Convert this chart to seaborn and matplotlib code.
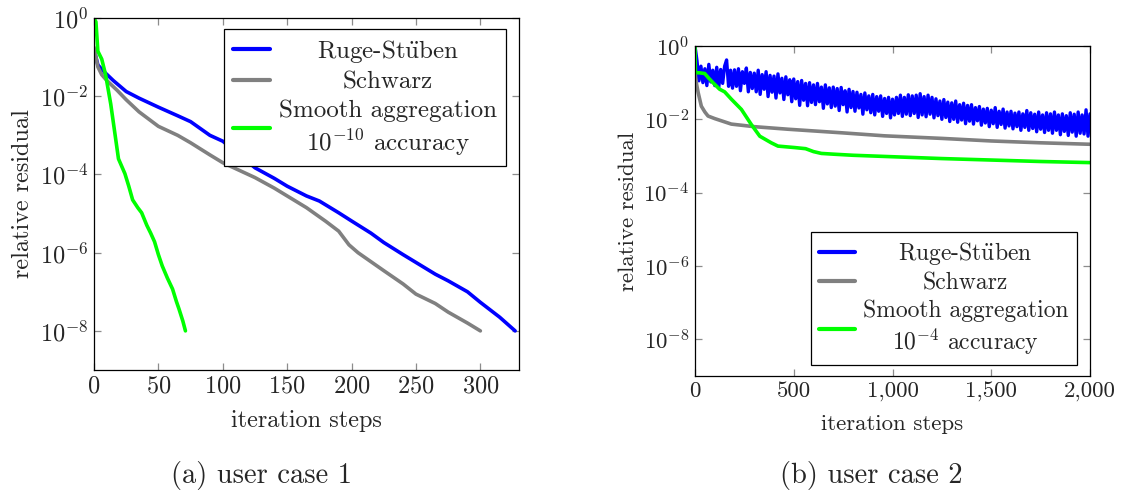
import numpy as np
import matplotlib
matplotlib.use("Agg")
import matplotlib.pyplot as plt
from matplotlib.ticker import FixedLocator, NullLocator, FuncFormatter
import seaborn as sns

# -------------------------------
# Data (iteration step, log10 of relative residual)
# -------------------------------
# (a) user case 1
rs_a_it = [0, 3, 8, 15, 25, 35, 50, 65, 75, 90, 100, 115, 125, 140, 150, 165, 175, 190, 200, 215,
           225, 240, 250, 265, 275, 290, 300, 315, 327]
rs_a_log = [-0.80, -1.20, -1.38, -1.60, -1.88, -2.05, -2.28, -2.50, -2.65, -3.00, -3.15, -3.55, -3.83, -4.10,
            -4.30, -4.55, -4.68, -4.98, -5.19, -5.50, -5.74, -6.05, -6.25, -6.55, -6.72, -7.00, -7.27, -7.65, -8.00]

sw_a_it = [0, 3, 6, 10, 18, 25, 35, 50, 65, 75, 90, 100, 125, 140, 150, 165, 180, 190, 198, 205,
           225, 240, 250, 265, 275, 290, 300]
sw_a_log = [-0.75, -1.25, -1.45, -1.60, -1.85, -2.09, -2.40, -2.77, -3.00, -3.19, -3.50, -3.70, -4.08, -4.35,
            -4.55, -4.85, -5.20, -5.45, -5.80, -6.00, -6.46, -6.80, -7.06, -7.30, -7.52, -7.80, -8.00]

sa_a_it = [0, 1.5, 3, 6, 9, 13, 16, 19, 24, 27, 30, 34, 37, 41, 44, 47, 50, 53, 57, 61, 64, 66, 69, 71]
sa_a_log = [0.0, -0.10, -0.85, -1.05, -1.45, -2.20, -2.90, -3.60, -3.98, -4.30, -4.65, -4.85, -4.98, -5.30,
            -5.50, -5.72, -6.05, -6.34, -6.65, -6.93, -7.25, -7.44, -7.75, -8.00]

# (b) user case 2
rs_b_it = list(range(0, 2001, 10))
rs_b_log = [
    0.00, -0.40, -0.95, -0.55, -1.00, -0.62, -1.08, -0.50, -0.98, -0.66,
    -1.08, -0.58, -1.14, -0.64, -1.02, -0.55, -0.38, -1.10, -0.66, -1.15,
    -0.65, -1.10, -0.62, -1.22, -0.70, -1.02, -0.60, -1.25, -0.72, -1.16,
    -0.74, -1.25, -0.66, -1.32, -0.78, -1.18, -0.70, -1.38, -0.80, -1.26,
    -0.82, -1.42, -0.76, -1.28, -0.88, -1.46, -0.84, -1.33, -0.92, -1.52,
    -0.90, -1.44, -0.97, -1.62, -0.94, -1.48, -1.02, -1.63, -1.00, -1.54,
    -1.06, -1.60, -1.02, -1.52, -1.12, -1.70, -1.06, -1.58, -1.14, -1.68,
    -1.12, -1.64, -1.16, -1.76, -1.13, -1.60, -1.22, -1.80, -1.18, -1.68,
    -1.24, -1.78, -1.26, -1.69, -1.32, -1.86, -1.28, -1.74, -1.36, -1.82,
    -1.32, -1.88, -1.38, -1.78, -1.36, -1.92, -1.43, -1.84, -1.40, -1.96,
    -1.45, -1.88, -1.40, -1.84, -1.34, -1.92, -1.40, -1.86, -1.33, -1.90,
    -1.36, -1.84, -1.34, -1.95, -1.30, -1.88, -1.38, -1.93, -1.34, -1.86,
    -1.40, -1.96, -1.44, -1.90, -1.50, -2.00, -1.46, -1.95, -1.53, -2.06,
    -1.55, -2.00, -1.50, -2.08, -1.60, -2.02, -1.56, -2.12, -1.62, -2.05,
    -1.60, -2.13, -1.68, -2.04, -1.65, -2.16, -1.72, -2.10, -1.70, -2.20,
    -1.75, -2.12, -1.68, -2.22, -1.78, -2.14, -1.72, -2.24, -1.80, -2.18,
    -1.78, -2.26, -1.83, -2.20, -1.80, -2.30, -1.85, -2.22, -1.76, -2.30,
    -1.82, -2.25, -1.86, -2.34, -1.80, -2.27, -1.88, -2.36, -1.82, -2.30,
    -1.85, -2.38, -1.80, -2.30, -1.88, -2.42, -1.85, -2.33, -1.90, -2.44,
    -1.82, -2.35, -1.86, -2.46, -1.80, -2.38, -1.88, -2.40, -1.74, -2.46,
    -1.85,
]

sw_b_it = [0, 5, 10, 16, 32, 50, 66, 100, 184, 300, 471, 750, 960, 1250, 1500, 1750, 2000]
sw_b_log = [-0.73, -0.95, -1.10, -1.27, -1.64, -1.80, -1.91, -1.98, -2.13, -2.20, -2.27, -2.37, -2.45,
            -2.52, -2.59, -2.64, -2.68]

sa_b_it = [0, 2, 20, 49, 70, 91, 125, 150, 184, 235, 285, 328, 386, 420, 505, 560, 600, 640, 700, 800,
           1000, 1250, 1500, 1750, 2000]
sa_b_log = [0.0, -0.73, -0.73, -0.75, -0.88, -1.00, -1.18, -1.25, -1.45, -1.73, -2.14, -2.46, -2.64, -2.73,
            -2.77, -2.80, -2.88, -2.93, -2.95, -2.98, -3.02, -3.07, -3.11, -3.15, -3.18]

labels_a = ["Ruge-St$\\ddot{\\mathrm{u}}$ben", "Schwarz", "Smooth aggregation\n$10^{-10}$ accuracy"]
labels_b = ["Ruge-St$\\ddot{\\mathrm{u}}$ben", "Schwarz", "Smooth aggregation\n$10^{-4}$ accuracy"]
colors = ["#0000ff", "#808080", "#00ff00"]

# -------------------------------
# Style
# -------------------------------
sns.set_style("ticks")
plt.rcParams["font.family"] = ["cmr10"]
plt.rcParams["mathtext.fontset"] = "cm"
plt.rcParams["axes.formatter.use_mathtext"] = True

fig = plt.figure(figsize=(11.24, 4.98), dpi=100)
ax_a = fig.add_axes([94 / 1124, 1 - 370 / 498, 425 / 1124, 352 / 498])
ax_b = fig.add_axes([695 / 1124, 1 - 376 / 498, 395 / 1124, 330 / 498])


def draw_panel(ax, series, labels, fs, xmax, xticks, blue_lw):
    for (it, lg), col, lab in zip(series, colors, labels):
        lw = blue_lw if col == "#0000ff" else 2.6
        sns.lineplot(x=it, y=10.0 ** np.array(lg), ax=ax, color=col, lw=lw, label=lab,
                     estimator=None, sort=False)
    ax.set_yscale("log")
    ax.set_ylim(1e-9, 1)
    ax.set_xlim(0, xmax)
    ax.yaxis.set_major_locator(FixedLocator([1e-8, 1e-6, 1e-4, 1e-2, 1]))
    ax.yaxis.set_minor_locator(NullLocator())
    ax.set_xticks(xticks)
    ax.tick_params(direction="in", top=True, right=True, length=5, width=0.9, color="#8c8c8c",
                   labelsize=fs, pad=4)
    for s in ax.spines.values():
        s.set_color("black")
        s.set_linewidth(0.9)
    ax.set_xlabel("iteration steps", fontsize=fs, labelpad=9)
    ax.set_ylabel("relative residual", fontsize=fs, labelpad=4)


draw_panel(ax_a, [(rs_a_it, rs_a_log), (sw_a_it, sw_a_log), (sa_a_it, sa_a_log)], labels_a,
           17.5, 330, [0, 50, 100, 150, 200, 250, 300], 2.6)
draw_panel(ax_b, [(rs_b_it, rs_b_log), (sw_b_it, sw_b_log), (sa_b_it, sa_b_log)], labels_b,
           16.5, 2000, [0, 500, 1000, 1500, 2000], 2.4)
ax_b.xaxis.set_major_formatter(FuncFormatter(lambda v, p: f"{int(v):,}"))

leg_a = ax_a.legend(loc="upper right", bbox_to_anchor=(0.969, 0.969), borderaxespad=0, fontsize=18,
                    handlelength=1.5, handletextpad=0.35, borderpad=0.35, labelspacing=0.25,
                    fancybox=False, framealpha=1, edgecolor="black")
leg_b = ax_b.legend(loc="lower right", bbox_to_anchor=(0.966, 0.033), borderaxespad=0, fontsize=17,
                    handlelength=1.5, handletextpad=0.35, borderpad=0.35, labelspacing=0.22,
                    fancybox=False, framealpha=1, edgecolor="black")
for leg in (leg_a, leg_b):
    leg.get_frame().set_linewidth(0.9)
    for h in leg.legend_handles:
        h.set_linewidth(3.0)
    for t in leg.get_texts():
        t.set_multialignment("center")

fig.text(261.7 / 1124, 1 - 483 / 498, "(a) user case 1", ha="center", va="baseline", fontsize=20.5)
fig.text(871 / 1124, 1 - 483 / 498, "(b) user case 2", ha="center", va="baseline", fontsize=20.5)

# center legend entries like pgfplots does
fig.canvas.draw()
renderer = fig.canvas.get_renderer()
for leg in (leg_a, leg_b):
    texts = leg.get_texts()
    widths = [t.get_window_extent(renderer).width for t in texts]
    wmax = max(widths)
    for t, w in zip(texts, widths):
        t.set_position(((wmax - w) / 2, 0))

fig.savefig("out.png", dpi=100)
